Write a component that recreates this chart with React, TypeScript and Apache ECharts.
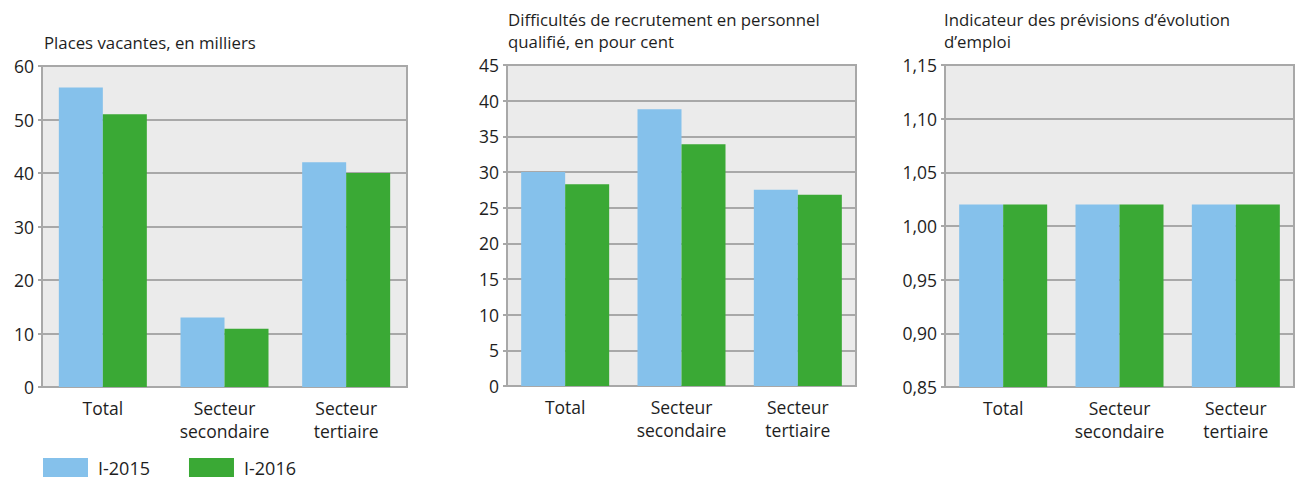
import React, { useEffect, useRef } from "react";
import * as echarts from "echarts";

const categories = ["Total", "Secteur\nsecondaire", "Secteur\ntertiaire"];
const seriesNames = ["I-2015", "I-2016"];
const vacancies2015 = [56, 13, 42];
const vacancies2016 = [51, 10.9, 40];
const difficulty2015 = [30, 38.8, 27.5];
const difficulty2016 = [28.3, 33.9, 26.8];
const outlook2015 = [1.02, 1.02, 1.02];
const outlook2016 = [1.02, 1.02, 1.02];
const titles = [
  "Places vacantes, en milliers",
  "Difficultés de recrutement en personnel\nqualifié, en pour cent",
  "Indicateur des prévisions d’évolution\nd’emploi",
];

const BLUE = "#85C1EB";
const GREEN = "#3AA935";
const GRAYLINE = "#A8A8A8";
const TEXT = "#1E1E1E";
const FONT = "'Open Sans', 'Noto Sans', sans-serif";

export default function App() {
  const ref = useRef<HTMLDivElement>(null);
  useEffect(() => {
    if (!ref.current) return;
    const chart = echarts.init(ref.current, null, { renderer: "svg" });
    const grids = [
      { left: 42, top: 66, width: 365, height: 321 },
      { left: 507, top: 65, width: 349, height: 321 },
      { left: 945, top: 65, width: 349, height: 322 },
    ];
    const yDefs = [
      { min: 0, max: 60, interval: 10, fmt: (v: number) => String(v) },
      { min: 0, max: 45, interval: 5, fmt: (v: number) => String(v) },
      {
        min: 0.85,
        max: 1.15,
        interval: 0.05,
        fmt: (v: number) => v.toFixed(2).replace(".", ","),
      },
    ];
    const data = [
      [vacancies2015, vacancies2016],
      [difficulty2015, difficulty2016],
      [outlook2015, outlook2016],
    ];
    const option: any = {
      animation: false,
      textStyle: { fontFamily: FONT, color: TEXT },
      title: [
        { text: titles[0], left: 44, top: 31 },
        { text: titles[1], left: 508, top: 8 },
        { text: titles[2], left: 944, top: 8 },
      ].map((t) => ({
        ...t,
        padding: 0,
        textStyle: {
          fontFamily: FONT,
          fontSize: 16.8,
          fontWeight: "normal",
          color: TEXT,
          lineHeight: 22,
        },
      })),
      legend: {
        left: 43,
        top: 458,
        icon: "rect",
        itemWidth: 45,
        itemHeight: 19,
        itemGap: 39,
        padding: 0,
        data: seriesNames,
        textStyle: { fontFamily: FONT, fontSize: 18, color: TEXT, padding: [0, 0, 0, 5] },
      },
      grid: grids.map((g) => ({
        ...g,
        show: true,
        backgroundColor: "#EBEBEB",
        borderColor: GRAYLINE,
        borderWidth: 2,
      })),
      xAxis: grids.map((_, i) => ({
        type: "category",
        gridIndex: i,
        data: categories,
        axisLine: { lineStyle: { color: GRAYLINE, width: 2 } },
        axisTick: { show: false },
        axisLabel: {
          fontFamily: FONT,
          fontSize: 17.5,
          color: TEXT,
          lineHeight: 23,
          margin: 9,
          interval: 0,
        },
      })),
      yAxis: yDefs.map((d, i) => ({
        type: "value",
        gridIndex: i,
        min: d.min,
        max: d.max,
        interval: d.interval,
        axisLine: { show: true, lineStyle: { color: GRAYLINE, width: 2 } },
        axisTick: { show: true, length: 4, lineStyle: { color: GRAYLINE, width: 2 } },
        splitLine: { show: true, lineStyle: { color: GRAYLINE, width: 2 } },
        axisLabel: {
          fontFamily: FONT,
          fontSize: 17.5,
          color: TEXT,
          margin: 8,
          formatter: d.fmt,
        },
      })),
      series: data.flatMap((pair, i) =>
        pair.map((vals, j) => ({
          type: "bar",
          name: seriesNames[j],
          xAxisIndex: i,
          yAxisIndex: i,
          data: vals,
          barWidth: 44,
          barGap: "0%",
          itemStyle: { color: j === 0 ? BLUE : GREEN },
          z: 3,
        }))
      ),
    };
    chart.setOption(option);
    return () => chart.dispose();
  }, []);
  return (
    <div
      ref={ref}
      style={{ position: "absolute", left: 0, top: 0, width: 1302, height: 478 }}
    />
  );
}
